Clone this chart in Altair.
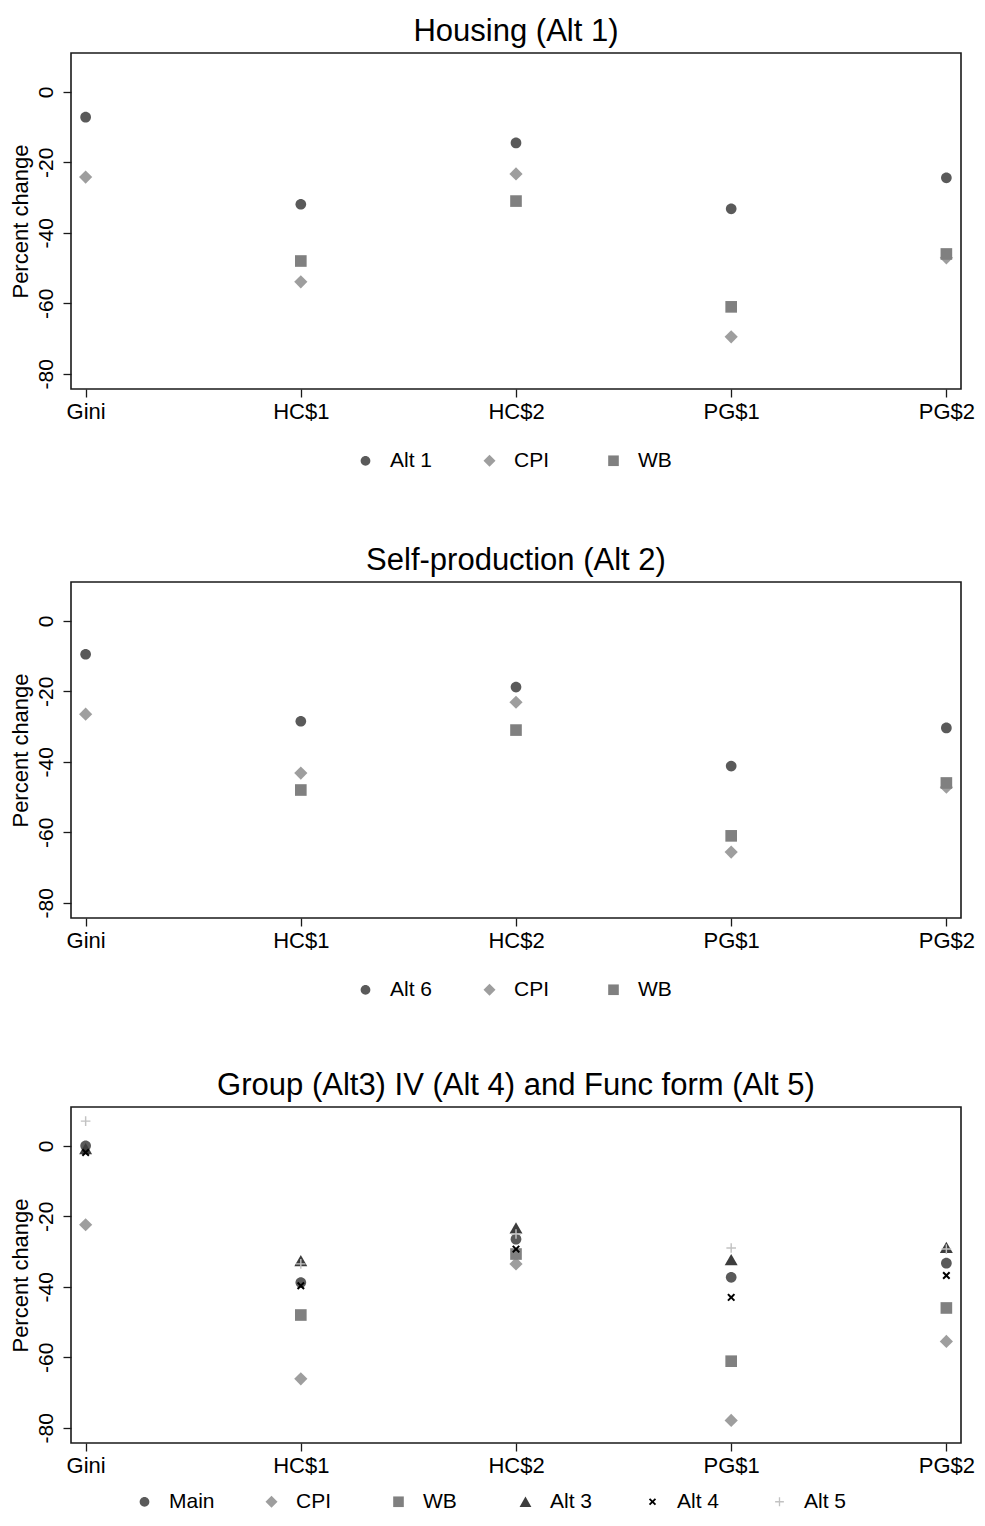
import altair as alt
import pandas as pd

categories = ["Gini", "HC$1", "HC$2", "PG$1", "PG$2"]

# Panel 1: Housing (Alt 1)
p1_series = ["Alt 1", "CPI", "WB"]
p1_alt1 = [-7.2, -31.9, -14.5, -33.2, -24.4]
p1_cpi = [-24.2, -53.9, -23.3, -69.5, -47.1]
p1_wb = [None, -48.0, -31.0, -61.0, -46.0]

# Panel 2: Self-production (Alt 2)
p2_series = ["Alt 6", "CPI", "WB"]
p2_alt6 = [-9.5, -28.5, -18.8, -41.2, -30.4]
p2_cpi = [-26.5, -43.2, -23.1, -65.6, -47.2]
p2_wb = [None, -48.0, -31.0, -61.0, -46.0]

# Panel 3: Group / IV / Func form
p3_series = ["Main", "CPI", "WB", "Alt 3", "Alt 4", "Alt 5"]
p3_main = [0.0, -38.8, -26.5, -37.3, -33.3]
p3_cpi = [-22.4, -66.1, -33.5, -77.9, -55.5]
p3_wb = [None, -48.0, -30.7, -61.1, -46.0]
p3_alt3 = [-0.8, -32.6, -23.3, -32.3, -28.8]
p3_alt4 = [-1.9, -39.7, -29.3, -43.0, -36.8]
p3_alt5 = [7.0, -33.5, -25.0, -29.0, -29.3]

FONT = "Liberation Sans"

# marker shapes (custom paths, drawn at one common size)
CIRCLE = "M0.89,0A0.89,0.89,0,1,1,-0.89,0A0.89,0.89,0,1,1,0.89,0Z"
DIAMOND = "M0,-1.1L1.1,0L0,1.1L-1.1,0Z"
SQUARE = "M-0.97,-0.97L0.97,-0.97L0.97,0.97L-0.97,0.97Z"
TRIANGLE = "M0,-0.94L1.08,0.94L-1.08,0.94Z"


def x_path(a, s):
    pts = [(0, -s), (a - s, -a), (a, -a + s), (s, 0), (a, a - s), (a - s, a),
           (0, s), (-a + s, a), (-a, a - s), (-s, 0), (-a, -a + s), (-a + s, -a)]
    return "M" + "L".join(f"{px:.3f},{py:.3f}" for px, py in pts) + "Z"


def plus_path(a, h):
    pts = [(-a, -h), (-h, -h), (-h, -a), (h, -a), (h, -h), (a, -h),
           (a, h), (h, h), (h, a), (-h, a), (-h, h), (-a, h)]
    return "M" + "L".join(f"{px:.3f},{py:.3f}" for px, py in pts) + "Z"


XMARK = x_path(0.66, 0.236)
PLUS = plus_path(0.8, 0.12)

C_CIRCLE = "#5a5a5a"
C_DIAMOND = "#9e9e9e"
C_SQUARE = "#808080"
C_TRIANGLE = "#3d3d3d"
C_X = "#000000"
C_PLUS = "#c2c2c2"


def make_df(series, values):
    rows = []
    for s, vals in zip(series, values):
        for c, v in zip(categories, vals):
            if v is not None:
                rows.append({"category": c, "series": s, "value": v})
    return pd.DataFrame(rows)


def panel(title, series, values, shapes, colors, legend_x, legend_y, col_pad):
    df = make_df(series, values)
    leg = alt.Legend(
        title=None, orient="none", legendX=legend_x, legendY=legend_y,
        direction="horizontal", columns=len(series), gridAlign="all",
        columnPadding=col_pad, labelOffset=14, symbolSize=120,
        labelFont=FONT, labelFontSize=21, labelColor="black",
        padding=0, symbolStrokeWidth=0, labelLimit=0,
    )
    return alt.Chart(df).mark_point(filled=True, opacity=1, size=144).encode(
        x=alt.X("category:N", sort=categories,
                scale=alt.Scale(domain=categories, padding=0.068),
                axis=alt.Axis(title=None, labelAngle=0, labelPadding=4)),
        y=alt.Y("value:Q",
                scale=alt.Scale(domain=[-84.3, 11], nice=False, zero=False),
                axis=alt.Axis(values=[0, -20, -40, -60, -80], title="Percent change",
                              labelAngle=270, labelPadding=7, titlePadding=3,
                              labelExpr="'' + datum.value")),
        color=alt.Color("series:N", scale=alt.Scale(domain=series, range=colors), legend=leg),
        shape=alt.Shape("series:N", scale=alt.Scale(domain=series, range=shapes), legend=leg),
    ).properties(width=890, height=336, title=alt.TitleParams(title))


c1 = panel("Housing (Alt 1)", p1_series, [p1_alt1, p1_cpi, p1_wb],
           [CIRCLE, DIAMOND, SQUARE], [C_CIRCLE, C_DIAMOND, C_SQUARE], 284, 397, 46)
c2 = panel("Self-production (Alt 2)", p2_series, [p2_alt6, p2_cpi, p2_wb],
           [CIRCLE, DIAMOND, SQUARE], [C_CIRCLE, C_DIAMOND, C_SQUARE], 284, 397, 46)
c3 = panel("Group (Alt3) IV (Alt 4) and Func form (Alt 5)", p3_series,
           [p3_main, p3_cpi, p3_wb, p3_alt3, p3_alt4, p3_alt5],
           [CIRCLE, DIAMOND, SQUARE, TRIANGLE, XMARK, PLUS],
           [C_CIRCLE, C_DIAMOND, C_SQUARE, C_TRIANGLE, C_X, C_PLUS], 63, 384, 46)

top = alt.vconcat(c1, c2, spacing=72).resolve_scale(color="independent", shape="independent")
chart = alt.vconcat(top, c3, spacing=68).resolve_scale(
    color="independent", shape="independent"
).configure(
    background="white", padding={"left": 0, "top": 7, "right": 0, "bottom": 0}
).configure_view(
    stroke="#1a1a1a", strokeWidth=1.6
).configure_axis(
    grid=False, domain=False, tickColor="#1a1a1a", tickSize=8, tickWidth=1.3,
    labelFont=FONT, labelFontSize=22, labelColor="black",
    titleFont=FONT, titleFontSize=22, titleFontWeight="normal", titleColor="black",
).configure_axisY(
    labelFontSize=21
).configure_title(
    font=FONT, fontSize=31, fontWeight="normal", color="black", anchor="middle", offset=5
)

chart.save("out.html", embed_options={"renderer": "svg", "actions": False})
